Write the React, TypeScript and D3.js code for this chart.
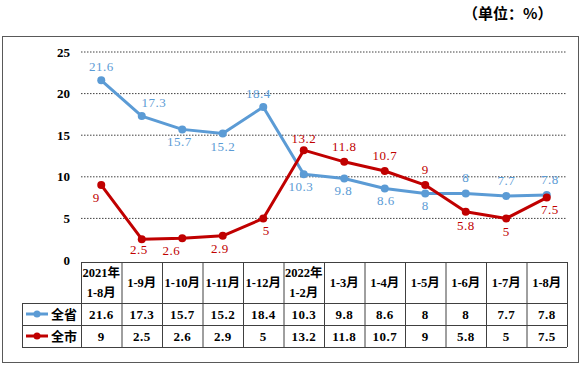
import * as d3 from 'd3'

const categories = [
  ['2021年', '1-8月'],
  ['1-9月'],
  ['1-10月'],
  ['1-11月'],
  ['1-12月'],
  ['2022年', '1-2月'],
  ['1-3月'],
  ['1-4月'],
  ['1-5月'],
  ['1-6月'],
  ['1-7月'],
  ['1-8月'],
]
const province = [21.6, 17.3, 15.7, 15.2, 18.4, 10.3, 9.8, 8.6, 8, 8, 7.7, 7.8]
const city = [9, 2.5, 2.6, 2.9, 5, 13.2, 11.8, 10.7, 9, 5.8, 5, 7.5]
const yTicks = [0, 5, 10, 15, 20, 25]
const seriesNames = ['全省', '全市']

// label placement: [dx, dy] relative to the point
const provPlace: [number, number][] = [
  [0, -9], [12, -9], [-3, 17], [0, 17], [-5, -9], [-3, 17],
  [-1, 17], [1, 17], [0, 17], [0, -11], [0, -11], [3, -11],
]
const cityPlace: [number, number][] = [
  [-5, 17], [-3, 15], [-11, 17], [-3, 17], [3, 17], [0, -7],
  [0, -11], [0, -11], [0, -11], [0, 18], [0, 18], [3, 16],
]

const W = 580
const H = 367
const BLUE = '#5B9BD5'
const RED = '#C00000'
const NUM_FONT = '"Liberation Serif", "Noto Sans CJK SC", serif'

const x = d3.scaleBand<number>().domain(d3.range(categories.length)).range([81, 567])
const y = d3.scaleLinear().domain([0, 25]).range([260, 52])
const cx = (i: number) => (x(i) ?? 0) + x.bandwidth() / 2

const line = d3
  .line<number>()
  .x((_, i) => cx(i))
  .y((d) => y(d))

const TABLE_TOP = 262
const HEAD_BOTTOM = 303
const ROW_H = 22
const LEG_LEFT = 22

export default function App() {
  const series = [
    { name: seriesNames[0], values: province, color: BLUE, place: provPlace },
    { name: seriesNames[1], values: city, color: RED, place: cityPlace },
  ]
  const tableBottom = HEAD_BOTTOM + ROW_H * 2
  const [x0, x1] = x.range()

  return (
    <svg
      width={W}
      height={H}
      style={{ position: 'absolute', left: 0, top: 0, background: '#fff' }}
    >
      <rect x={2.5} y={36.5} width={576} height={326} fill="none" stroke="#595959" strokeWidth={1} />

      <text
        x={463}
        y={19}
        fontSize={15}
        fontWeight={700}
        fontFamily={'"Noto Sans CJK SC", sans-serif'}
        fill="#000"
      >
        （单位：%）
      </text>

      {/* gridlines + y labels */}
      {yTicks.map((t) => (
        <g key={t}>
          {t > 0 && (
            <line
              x1={x0}
              x2={x1}
              y1={y(t)}
              y2={y(t)}
              stroke="#404040"
              strokeWidth={1}
              strokeDasharray="1.5,1.5"
            />
          )}
          <text
            x={70}
            y={y(t) + 4.5}
            textAnchor="end"
            fontSize={13}
            fontWeight={700}
            fontFamily={NUM_FONT}
          >
            {t}
          </text>
        </g>
      ))}

      {/* lines */}
      {series.map((s) => (
        <g key={s.name}>
          <path d={line(s.values) ?? ''} fill="none" stroke={s.color} strokeWidth={3} strokeLinejoin="round" />
          {s.values.map((v, i) => (
            <circle key={i} cx={cx(i)} cy={y(v)} r={4} fill={s.color} />
          ))}
          {s.values.map((v, i) => (
            <text
              key={'l' + i}
              x={cx(i) + s.place[i][0]}
              y={y(v) + s.place[i][1]}
              textAnchor="middle"
              fontSize={13}
              fontFamily={NUM_FONT}
              fill={s.color}
              letterSpacing={0.5}
            >
              {v}
            </text>
          ))}
        </g>
      ))}

      {/* table */}
      <g stroke="#404040" strokeWidth={1} fill="none">
        <line x1={x0} x2={x1} y1={TABLE_TOP + 0.5} y2={TABLE_TOP + 0.5} />
        {[0, 1, 2].map((r) => (
          <line
            key={r}
            x1={LEG_LEFT}
            x2={x1}
            y1={HEAD_BOTTOM + r * ROW_H + 0.5}
            y2={HEAD_BOTTOM + r * ROW_H + 0.5}
          />
        ))}
        <line x1={LEG_LEFT + 0.5} x2={LEG_LEFT + 0.5} y1={HEAD_BOTTOM} y2={tableBottom} />
        {d3.range(categories.length + 1).map((i) => {
          const xx = i === categories.length ? x1 : x(i) ?? 0
          return <line key={i} x1={xx + 0.5} x2={xx + 0.5} y1={TABLE_TOP} y2={tableBottom} />
        })}
      </g>

      {categories.map((c, i) => (
        <text
          key={i}
          x={cx(i)}
          y={c.length === 1 ? 287 : 277}
          textAnchor="middle"
          fontSize={12.5}
          fontWeight={700}
          fontFamily={NUM_FONT}
        >
          {c.map((ln, k) => (
            <tspan key={k} x={cx(i)} dy={k === 0 ? 0 : 20}>
              {ln}
            </tspan>
          ))}
        </text>
      ))}

      {series.map((s, r) => {
        const rowMid = HEAD_BOTTOM + r * ROW_H + ROW_H / 2
        return (
          <g key={s.name}>
            <line x1={26} x2={48} y1={rowMid} y2={rowMid} stroke={s.color} strokeWidth={3} />
            <circle cx={37} cy={rowMid} r={3.5} fill={s.color} />
            <text
              x={51}
              y={rowMid + 5}
              fontSize={13}
              fontWeight={700}
              fontFamily={'"Noto Sans CJK SC", sans-serif'}
            >
              {s.name}
            </text>
            {s.values.map((v, i) => (
              <text
                key={i}
                x={cx(i)}
                y={rowMid + 5}
                textAnchor="middle"
                fontSize={13}
                fontWeight={700}
                fontFamily={NUM_FONT}
                letterSpacing={0.5}
              >
                {v}
              </text>
            ))}
          </g>
        )
      })}
    </svg>
  )
}
